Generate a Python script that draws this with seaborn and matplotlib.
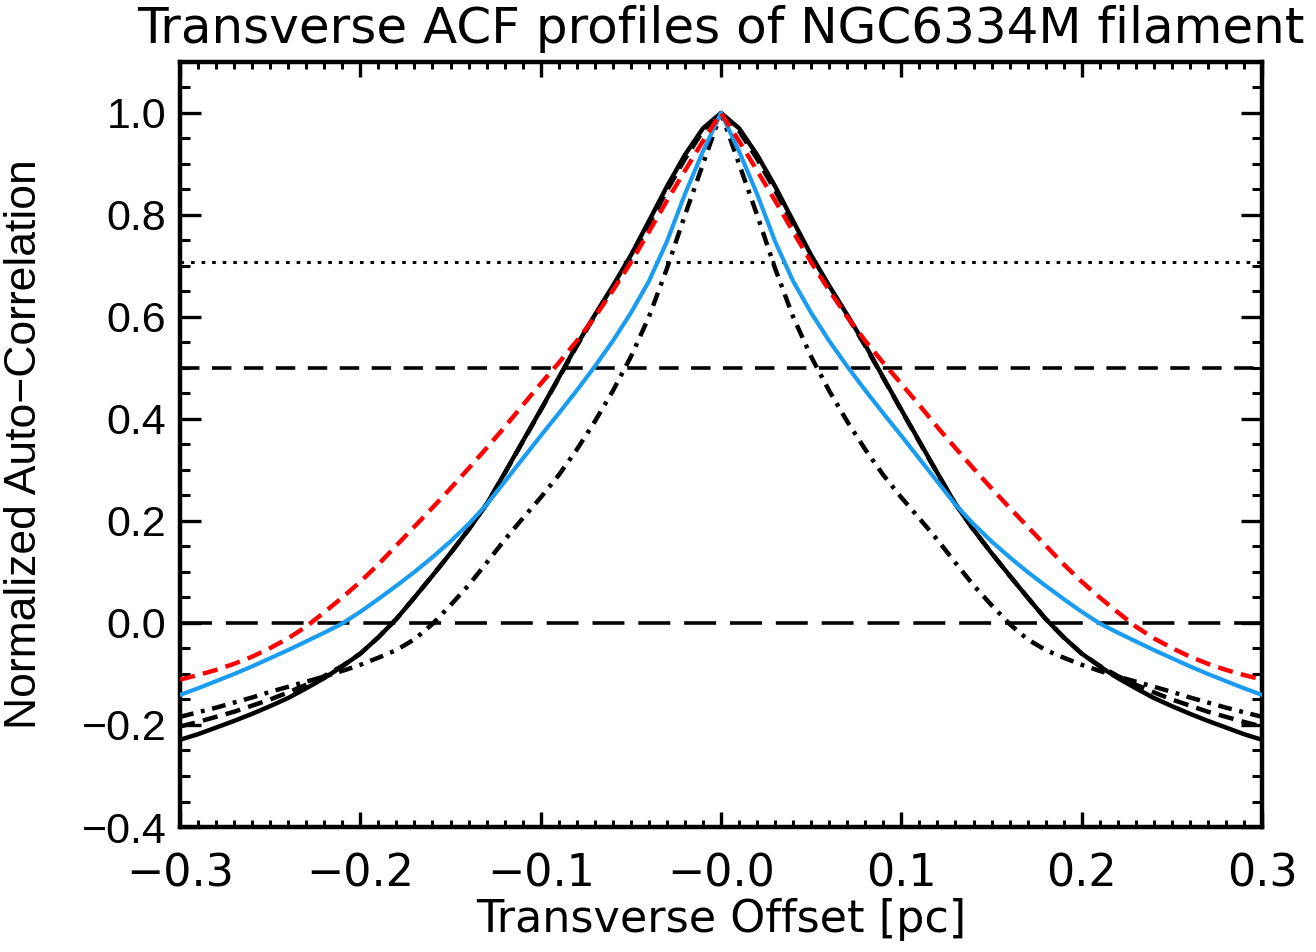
import numpy as np
import pandas as pd
import matplotlib
matplotlib.use("Agg")
import matplotlib.pyplot as plt
import seaborn as sns

# ---------------- data ----------------
offset = [-0.30, -0.29, -0.28, -0.27, -0.26, -0.25, -0.24, -0.23, -0.22, -0.21,
          -0.20, -0.19, -0.18, -0.17, -0.16, -0.15, -0.14, -0.13, -0.12, -0.11,
          -0.10, -0.09, -0.08, -0.07, -0.06, -0.05, -0.04, -0.03, -0.02, -0.01,
          0.00,
          0.01, 0.02, 0.03, 0.04, 0.05, 0.06, 0.07, 0.08, 0.09, 0.10,
          0.11, 0.12, 0.13, 0.14, 0.15, 0.16, 0.17, 0.18, 0.19, 0.20,
          0.21, 0.22, 0.23, 0.24, 0.25, 0.26, 0.27, 0.28, 0.29, 0.30]

acf_black_solid = [-0.229, -0.218, -0.205, -0.192, -0.178, -0.163, -0.147, -0.128, -0.108, -0.085,
                   -0.060, -0.028, 0.008, 0.050, 0.093, 0.137, 0.183, 0.233, 0.294, 0.356,
                   0.418, 0.481, 0.545, 0.604, 0.661, 0.721, 0.788, 0.856, 0.918, 0.970,
                   1.000,
                   0.970, 0.918, 0.856, 0.788, 0.721, 0.661, 0.604, 0.545, 0.481, 0.418,
                   0.356, 0.294, 0.233, 0.183, 0.137, 0.093, 0.050, 0.008, -0.028, -0.060,
                   -0.085, -0.108, -0.128, -0.147, -0.163, -0.178, -0.192, -0.205, -0.218, -0.229]

acf_black_dashed = [-0.203, -0.194, -0.184, -0.174, -0.162, -0.150, -0.136, -0.121, -0.104, -0.084,
                    -0.060, -0.028, 0.008, 0.050, 0.093, 0.137, 0.183, 0.233, 0.293, 0.355,
                    0.417, 0.480, 0.543, 0.602, 0.656, 0.714, 0.781, 0.848, 0.910, 0.965,
                    1.000,
                    0.965, 0.910, 0.848, 0.781, 0.714, 0.656, 0.602, 0.543, 0.480, 0.417,
                    0.355, 0.293, 0.233, 0.183, 0.137, 0.093, 0.050, 0.008, -0.028, -0.060,
                    -0.084, -0.104, -0.121, -0.136, -0.150, -0.162, -0.174, -0.184, -0.194, -0.203]

acf_black_dashdot = [-0.184, -0.175, -0.166, -0.156, -0.146, -0.135, -0.125, -0.115, -0.105, -0.094,
                     -0.082, -0.068, -0.053, -0.032, -0.002, 0.035, 0.074, 0.118, 0.163, 0.205,
                     0.246, 0.290, 0.340, 0.395, 0.455, 0.522, 0.600, 0.695, 0.800, 0.900,
                     1.000,
                     0.900, 0.800, 0.695, 0.600, 0.522, 0.455, 0.395, 0.340, 0.290, 0.246,
                     0.205, 0.163, 0.118, 0.074, 0.035, -0.002, -0.032, -0.053, -0.068, -0.082,
                     -0.094, -0.105, -0.115, -0.125, -0.135, -0.146, -0.156, -0.166, -0.175, -0.184]

acf_blue = [-0.141, -0.128, -0.114, -0.100, -0.085, -0.069, -0.053, -0.036, -0.019, -0.001,
            0.022, 0.047, 0.073, 0.100, 0.129, 0.160, 0.194, 0.232, 0.277, 0.322,
            0.367, 0.411, 0.456, 0.503, 0.553, 0.608, 0.670, 0.748, 0.841, 0.925,
            1.000,
            0.925, 0.841, 0.748, 0.670, 0.608, 0.553, 0.503, 0.456, 0.411, 0.367,
            0.322, 0.277, 0.232, 0.194, 0.160, 0.129, 0.100, 0.073, 0.047, 0.022,
            -0.001, -0.019, -0.036, -0.053, -0.069, -0.085, -0.100, -0.114, -0.128, -0.141]

acf_red = [-0.111, -0.102, -0.092, -0.080, -0.066, -0.049, -0.030, -0.007, 0.021, 0.050,
           0.081, 0.115, 0.152, 0.189, 0.226, 0.264, 0.303, 0.343, 0.384, 0.427,
           0.469, 0.510, 0.553, 0.600, 0.652, 0.707, 0.767, 0.828, 0.887, 0.945,
           1.000,
           0.945, 0.887, 0.828, 0.767, 0.707, 0.652, 0.600, 0.553, 0.510, 0.469,
           0.427, 0.384, 0.343, 0.303, 0.264, 0.226, 0.189, 0.152, 0.115, 0.081,
           0.050, 0.021, -0.007, -0.030, -0.049, -0.066, -0.080, -0.092, -0.102, -0.111]

ref_levels = [0.707, 0.5, 0.0]

x_ticks = [-0.3, -0.2, -0.1, 0.0, 0.1, 0.2, 0.3]
x_tick_labels = ["\u22120.3", "\u22120.2", "\u22120.1", "\u22120.0", "0.1", "0.2", "0.3"]
y_ticks = [-0.4, -0.2, 0.0, 0.2, 0.4, 0.6, 0.8, 1.0]
y_tick_labels = ["\u22120.4", "\u22120.2", "0.0", "0.2", "0.4", "0.6", "0.8", "1.0"]

title = "Transverse ACF profiles of NGC6334M filament"
xlabel = "Transverse Offset [pc]"
ylabel = "Normalized Auto\u2212Correlation"

# ---------------- style ----------------
sns.set_style("ticks")
narrow = ["DejaVu Sans"]
wide = ["Liberation Sans", "DejaVu Sans"]
plt.rcParams["font.family"] = wide
plt.rcParams["lines.scale_dashes"] = False
plt.rcParams["text.color"] = "black"
plt.rcParams["axes.labelcolor"] = "black"
plt.rcParams["xtick.color"] = "black"
plt.rcParams["ytick.color"] = "black"

fig = plt.figure(figsize=(13.16, 9.52), dpi=100)
ax = fig.add_axes([0.1368, 0.1313, 0.8222, 0.8036])

df = pd.DataFrame({"x": offset, "solid": acf_black_solid, "dashed": acf_black_dashed,
                   "dashdot": acf_black_dashdot, "blue": acf_blue, "red": acf_red})

# reference lines
ref_styles = [dict(dashes=(2.6, 5.0), lw=2.2), dict(dashes=(14, 9), lw=2.6), dict(dashes=(23, 10), lw=2.6)]
for lvl, st in zip(ref_levels, ref_styles):
    ax.axhline(lvl, color="black", linestyle=(0, st["dashes"]), lw=st["lw"], zorder=1)

sns.lineplot(data=df, x="x", y="solid", ax=ax, color="black", lw=3.2, sort=False, zorder=3)
sns.lineplot(data=df, x="x", y="dashed", ax=ax, color="black", lw=3.2, sort=False,
             linestyle=(0, (11, 6)), zorder=3)
sns.lineplot(data=df, x="x", y="dashdot", ax=ax, color="black", lw=3.2, sort=False,
             linestyle=(0, (10, 5.5, 2.8, 5.5)), zorder=3)
sns.lineplot(data=df, x="x", y="blue", ax=ax, color="#1a9cf0", lw=3.0, sort=False, zorder=4)
sns.lineplot(data=df, x="x", y="red", ax=ax, color="#ff0000", lw=3.2, sort=False,
             linestyle=(0, (11, 6)), zorder=4)

ax.set_xlim(-0.3, 0.3)
ax.set_ylim(-0.4, 1.1)

ax.set_xticks(x_ticks)
ax.set_xticklabels(x_tick_labels, fontsize=32, family=narrow)
ax.set_yticks(y_ticks)
ax.set_yticklabels(y_tick_labels, fontsize=31, family=wide)
ax.xaxis.set_minor_locator(matplotlib.ticker.MultipleLocator(0.01))
ax.yaxis.set_minor_locator(matplotlib.ticker.MultipleLocator(0.05))

ax.tick_params(axis="x", which="major", direction="in", length=11, width=2.4,
               top=True, bottom=True, pad=18)
ax.tick_params(axis="x", which="minor", direction="in", length=5, width=2.2,
               top=True, bottom=True)
ax.tick_params(axis="y", which="major", direction="in", length=15, width=2.4,
               left=True, right=True, pad=10)
ax.tick_params(axis="y", which="minor", direction="in", length=7, width=2.2,
               left=True, right=True)

for sp in ax.spines.values():
    sp.set_linewidth(3.2)
    sp.set_color("black")

ax.set_xlabel(xlabel, fontsize=32, family=narrow, labelpad=2)
ax.set_ylabel(ylabel, fontsize=32, family=wide, labelpad=26)
ax.set_title(title, fontsize=36, family=narrow, pad=14)

fig.savefig("out.png", dpi=100)
